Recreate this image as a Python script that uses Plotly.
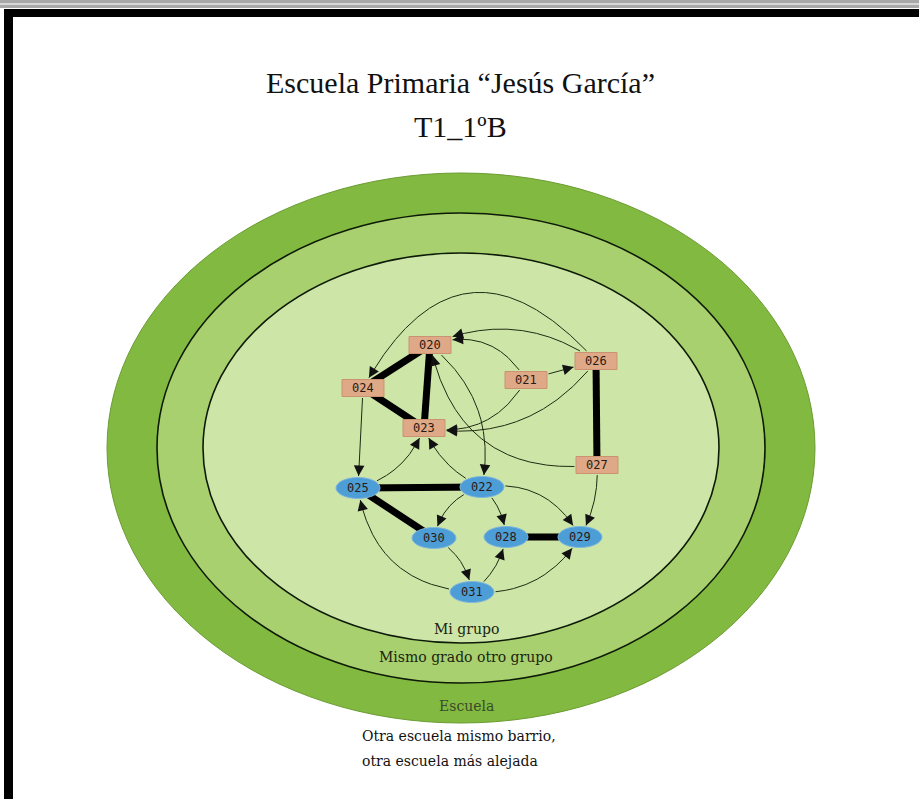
import numpy as np
import plotly.graph_objects as go

# ---------------- data ----------------
title_lines = ["Escuela Primaria “Jesús García”", "T1_1ºB"]
zone_labels = ["Mi grupo", "Mismo grado otro grupo", "Escuela"]
outside_labels = ["Otra escuela mismo barrio,", "otra escuela más alejada"]

# concentric zones (centre + radii, picture units)
zone_cx = 461
zone_cy = 448
zone_rx = [354, 304, 258]
zone_ry = [275, 235, 195]
zone_fill = ["#82b940", "#a9d06e", "#cde6a7"]

node_ids = ["020", "021", "023", "024", "026", "027",
            "025", "022", "030", "028", "029", "031"]
node_x = [430, 526, 424, 363, 596, 597, 358, 482, 434, 506, 580, 472]
node_y = [345, 380, 428, 388, 361, 465, 488, 487, 538, 537, 537, 592]
node_kind = ["rect"] * 6 + ["oval"] * 6

strong_src = ["020", "020", "024", "026", "025", "025", "028"]
strong_dst = ["024", "023", "023", "027", "022", "030", "029"]

arc_src = ["026", "021", "026", "021", "021", "026", "027", "020", "024",
           "025", "022", "022", "022", "022", "027", "030", "031", "031", "031"]
arc_dst = ["020", "020", "024", "026", "023", "023", "020", "022", "025",
           "023", "023", "030", "028", "029", "029", "031", "028", "029", "025"]
arc_bend = [0.28, 0.40, 0.70, 0.0, -0.35, -0.30, -0.45, -0.30, 0.0,
            0.25, -0.20, 0.30, -0.20, -0.35, -0.15, -0.25, 0.20, 0.30, -0.40]

# ---------------- helpers ----------------
RECT_HW, RECT_HH = 21, 8.5
OVAL_RX, OVAL_RY = 22, 10.5
pos = {n: (x, y) for n, x, y in zip(node_ids, node_x, node_y)}
kind = dict(zip(node_ids, node_kind))


def inside(n, px, py, pad=1.5):
    cx, cy = pos[n]
    if kind[n] == "rect":
        return (np.abs(px - cx) <= RECT_HW + pad) & (np.abs(py - cy) <= RECT_HH + pad)
    return ((px - cx) / (OVAL_RX + pad)) ** 2 + ((py - cy) / (OVAL_RY + pad)) ** 2 <= 1


def curve(a, b, bend):
    x0, y0 = pos[a]
    x2, y2 = pos[b]
    dx, dy = x2 - x0, y2 - y0
    cx, cy = (x0 + x2) / 2 - bend * dy, (y0 + y2) / 2 + bend * dx
    t = np.linspace(0, 1, 800)
    px = (1 - t) ** 2 * x0 + 2 * (1 - t) * t * cx + t ** 2 * x2
    py = (1 - t) ** 2 * y0 + 2 * (1 - t) * t * cy + t ** 2 * y2
    out_a = ~inside(a, px, py)
    out_b = ~inside(b, px, py)
    i0 = int(np.argmax(out_a))
    i1 = len(t) - 1 - int(np.argmax(out_b[::-1]))
    return px[i0:i1 + 1], py[i0:i1 + 1]


fig = go.Figure()

# strong (mutual) links
for a, b in zip(strong_src, strong_dst):
    fig.add_trace(go.Scatter(x=[pos[a][0], pos[b][0]], y=[pos[a][1], pos[b][1]],
                             mode="lines", line=dict(color="#000000", width=7),
                             hoverinfo="skip", showlegend=False))

annotations = []
# directed arcs
for a, b, bd in zip(arc_src, arc_dst, arc_bend):
    px, py = curve(a, b, bd)
    fig.add_trace(go.Scatter(x=px, y=py, mode="lines",
                             line=dict(color="#1f2a14", width=1),
                             hoverinfo="skip", showlegend=False))
    # tangent at the arrival point
    seg = np.hypot(np.diff(px), np.diff(py))
    cum = np.concatenate([[0], np.cumsum(seg)])
    back = cum[-1] - 6
    j = int(np.searchsorted(cum, back))
    tx, ty = px[-1] - px[j], py[-1] - py[j]
    L = np.hypot(tx, ty)
    tx, ty = tx / L, ty / L
    annotations.append(dict(x=px[-1], y=py[-1], ax=px[-1] - 40 * tx, ay=py[-1] - 40 * ty,
                            xref="x", yref="y", axref="x", ayref="y",
                            showarrow=True, arrowhead=2, arrowsize=2.1,
                            arrowwidth=1, arrowcolor="rgba(17,17,17,1)", text="",
                            standoff=0, startstandoff=32))

shapes = []
# frame
shapes.append(dict(type="rect", x0=0, x1=919, y0=0, y1=8, line=dict(width=0),
                   fillcolor="#a9a9a9", layer="below"))
shapes.append(dict(type="rect", x0=0, x1=919, y0=3, y1=5, line=dict(width=0),
                   fillcolor="#d8d8d8", layer="below"))
shapes.append(dict(type="rect", x0=4, x1=919, y0=9, y1=17, line=dict(width=0),
                   fillcolor="#000000", layer="below"))
shapes.append(dict(type="rect", x0=4, x1=13, y0=9, y1=799, line=dict(width=0),
                   fillcolor="#000000", layer="below"))

# zones
for i, (rx, ry, fc) in enumerate(zip(zone_rx, zone_ry, zone_fill)):
    shapes.append(dict(type="circle", x0=zone_cx - rx, x1=zone_cx + rx,
                       y0=zone_cy - ry, y1=zone_cy + ry, fillcolor=fc,
                       line=dict(color="#6c9c34" if i == 0 else "#0d1a08",
                                 width=1 if i == 0 else 1.6),
                       layer="below"))

# nodes
for n in node_ids:
    cx, cy = pos[n]
    if kind[n] == "rect":
        shapes.append(dict(type="rect", x0=cx - RECT_HW, x1=cx + RECT_HW,
                           y0=cy - RECT_HH, y1=cy + RECT_HH, fillcolor="#dfa887",
                           line=dict(color="#c99372", width=1), layer="above"))
    else:
        shapes.append(dict(type="circle", x0=cx - OVAL_RX, x1=cx + OVAL_RX,
                           y0=cy - OVAL_RY, y1=cy + OVAL_RY, fillcolor="#4d9dd6",
                           line=dict(color="#7fb6de", width=1), layer="above"))
    annotations.append(dict(x=cx, y=cy, xref="x", yref="y", text=n, showarrow=False,
                            font=dict(family="DejaVu Sans Mono", size=12, color="#2a1a14")))

# titles
annotations.append(dict(x=460, y=82, xref="x", yref="y", text=title_lines[0], showarrow=False,
                        font=dict(family="Liberation Serif", size=30, color="#111111")))
annotations.append(dict(x=460, y=126, xref="x", yref="y", text=title_lines[1], showarrow=False,
                        font=dict(family="Liberation Serif", size=30, color="#111111")))

# zone labels
zone_label_y = [629, 657, 706]
zone_label_c = ["#1a2410", "#1a2410", "#3a4a2a"]
for lab, y, c in zip(zone_labels, zone_label_y, zone_label_c):
    annotations.append(dict(x=466, y=y, xref="x", yref="y", text=lab, showarrow=False,
                            font=dict(family="DejaVu Serif", size=14, color=c)))
for lab, y in zip(outside_labels, [736, 761]):
    annotations.append(dict(x=360, y=y, xref="x", yref="y", text=lab, showarrow=False,
                            xanchor="left",
                            font=dict(family="DejaVu Serif", size=14, color="#111111")))

fig.update_layout(
    width=919, height=799, autosize=False,
    margin=dict(l=0, r=0, t=0, b=0),
    paper_bgcolor="white", plot_bgcolor="white",
    xaxis=dict(range=[0, 919], visible=False, fixedrange=True),
    yaxis=dict(range=[799, 0], visible=False, fixedrange=True),
    shapes=shapes, annotations=annotations, showlegend=False,
)

fig.write_html("out.html", config={"displayModeBar": False},
               post_script="document.body.style.margin='0';document.body.style.overflow='hidden';")
